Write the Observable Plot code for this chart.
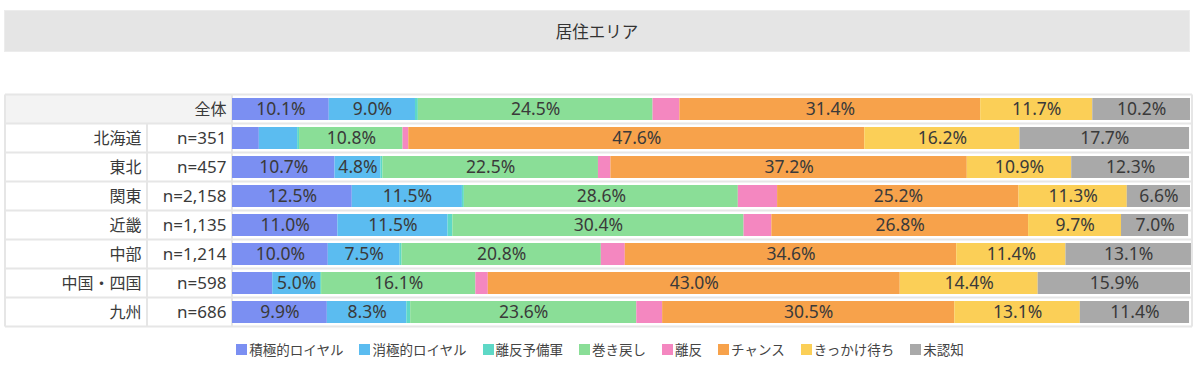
<!DOCTYPE html>
<html>
<head>
<meta charset="utf-8">
<script src="https://cdn.jsdelivr.net/npm/d3@7"></script>
<script src="https://cdn.jsdelivr.net/npm/@observablehq/plot@0.6"></script>
<style>
  html, body { margin: 0; padding: 0; background: #ffffff; }
  body { width: 1200px; height: 371px; position: relative; overflow: hidden;
         font-family: "Noto Sans", "Noto Sans CJK JP", sans-serif; color: #333; }
  #title { position: absolute; left: 4px; top: 10px; width: 1186px; height: 42px;
           background: #e5e5e5; border: 1px solid #ececec; box-sizing: border-box;
           display: flex; align-items: center; justify-content: center;
           font-size: 16.5px; color: #333; }
  #chart { position: absolute; left: 0; top: 88px; }
  #legend { position: absolute; left: 0; top: 339px; width: 1200px; display: flex;
            justify-content: center; font-size: 13.5px; color: #444; }
  .item { display: flex; align-items: center; margin: 0 8px; }
  .sw { width: 11px; height: 11px; margin-right: 2px; }
</style>
</head>
<body>
<div id="title">居住エリア</div>
<div id="chart"></div>
<div id="legend"></div>
<script>
// ---- data ----
const regions = ["全体", "北海道", "東北", "関東", "近畿", "中部", "中国・四国", "九州"];
const sampleSizes = ["", "n=351", "n=457", "n=2,158", "n=1,135", "n=1,214", "n=598", "n=686"];
const categories = ["積極的ロイヤル", "消極的ロイヤル", "離反予備軍", "巻き戻し", "離反", "チャンス", "きっかけ待ち", "未認知"];
const colors = ["#7b8ff2", "#5bbcf0", "#5ed8c6", "#8ade97", "#f487c0", "#f7a24b", "#fbcf57", "#a9a9a9"];

const activeLoyal  = [10.1, 2.8, 10.7, 12.5, 11.0, 10.0, 4.2, 9.9];
const passiveLoyal = [9.0, 4.0, 4.8, 11.5, 11.5, 7.5, 5.0, 8.3];
const churnReserve = [0.3, 0.2, 0.2, 0.2, 0.5, 0.2, 0.1, 0.4];
const winBack      = [24.5, 10.8, 22.5, 28.6, 30.4, 20.8, 16.1, 23.6];
const churned      = [2.8, 0.6, 1.3, 4.1, 2.9, 2.5, 1.3, 2.7];
const chance       = [31.4, 47.6, 37.2, 25.2, 26.8, 34.6, 43.0, 30.5];
const waiting      = [11.7, 16.2, 10.9, 11.3, 9.7, 11.4, 14.4, 13.1];
const unaware      = [10.2, 17.7, 12.3, 6.6, 7.0, 13.1, 15.9, 11.4];

const labelThreshold = 4.5;

// ---- build table for Plot ----
const seriesValues = [activeLoyal, passiveLoyal, churnReserve, winBack, churned, chance, waiting, unaware];
const data = [];
regions.forEach((region, i) => {
  categories.forEach((category, j) => {
    data.push({region, category, value: seriesValues[j][i]});
  });
});

const fontFamily = '"Noto Sans", "Noto Sans CJK JP", sans-serif';

// table grid drawn from the y band scale
function tableGrid(index, scales, values, dims) {
  const y = scales.y;
  const step = y(regions[1]) - y(regions[0]);
  const bw = typeof y.bandwidth === "function" ? y.bandwidth() : step * 0.76;
  const top0 = y(regions[0]) + bw / 2 - step / 2;
  const left = 5, split = 147, barLeft = dims.marginLeft, right = dims.width - dims.marginRight + 2;
  const g = d3.create("svg:g");
  regions.forEach((r, i) => {
    const t = y(r) + bw / 2 - step / 2;
    g.append("rect").attr("x", left).attr("y", t).attr("width", barLeft - left).attr("height", step)
      .attr("fill", i === 0 ? "#f3f3f3" : "#ffffff");
  });
  const stroke = "#e6e6e6";
  for (let i = 0; i <= regions.length; i++) {
    const yy = top0 + i * step;
    g.append("line").attr("x1", left).attr("x2", right).attr("y1", yy).attr("y2", yy)
      .attr("stroke", stroke).attr("stroke-width", 2);
  }
  const bottom = top0 + regions.length * step;
  [left, barLeft, right].forEach(x => {
    g.append("line").attr("x1", x).attr("x2", x).attr("y1", top0).attr("y2", bottom)
      .attr("stroke", stroke).attr("stroke-width", 2);
  });
  g.append("line").attr("x1", split).attr("x2", split).attr("y1", top0 + step).attr("y2", bottom)
    .attr("stroke", stroke).attr("stroke-width", 2);
  return g.node();
}

const chart = Plot.plot({
  width: 1200,
  height: 242,
  marginLeft: 232,
  marginRight: 10,
  marginTop: 7,
  marginBottom: 3,
  x: {domain: [0, 100], axis: null},
  y: {domain: regions, axis: null, paddingInner: 0.24, paddingOuter: 0.12},
  color: {domain: categories, range: colors},
  style: {fontFamily, fontSize: "16px", color: "#333", background: "transparent", overflow: "visible"},
  marks: [
    tableGrid,
    Plot.barX(data, {x: "value", y: "region", fill: "category", z: "category"}),
    Plot.text(data, Plot.stackX({
      x: "value", y: "region", z: "category",
      text: d => d.value >= labelThreshold ? d.value.toFixed(1) + "%" : "",
      fill: "#3a3a3a", fontSize: 17.5
    })),
    Plot.text(regions.slice(1), {y: d => d, text: d => d, frameAnchor: "left", textAnchor: "end", dx: -91, fill: "#3a3a3a", fontSize: 16}),
    Plot.text(regions.slice(0, 1), {y: d => d, text: d => d, frameAnchor: "left", textAnchor: "end", dx: -6, fill: "#3a3a3a", fontSize: 16}),
    Plot.text(regions.slice(1), {y: d => d, text: (d, i) => sampleSizes[i + 1], frameAnchor: "left", textAnchor: "end", dx: -6, fill: "#3a3a3a", fontSize: 17})
  ]
});
document.getElementById("chart").appendChild(chart);

// legend
const legend = document.getElementById("legend");
categories.forEach((c, i) => {
  const item = document.createElement("div");
  item.className = "item";
  const sw = document.createElement("div");
  sw.className = "sw";
  sw.style.background = colors[i];
  const label = document.createElement("span");
  label.textContent = c;
  item.appendChild(sw);
  item.appendChild(label);
  legend.appendChild(item);
});
</script>
</body>
</html>
